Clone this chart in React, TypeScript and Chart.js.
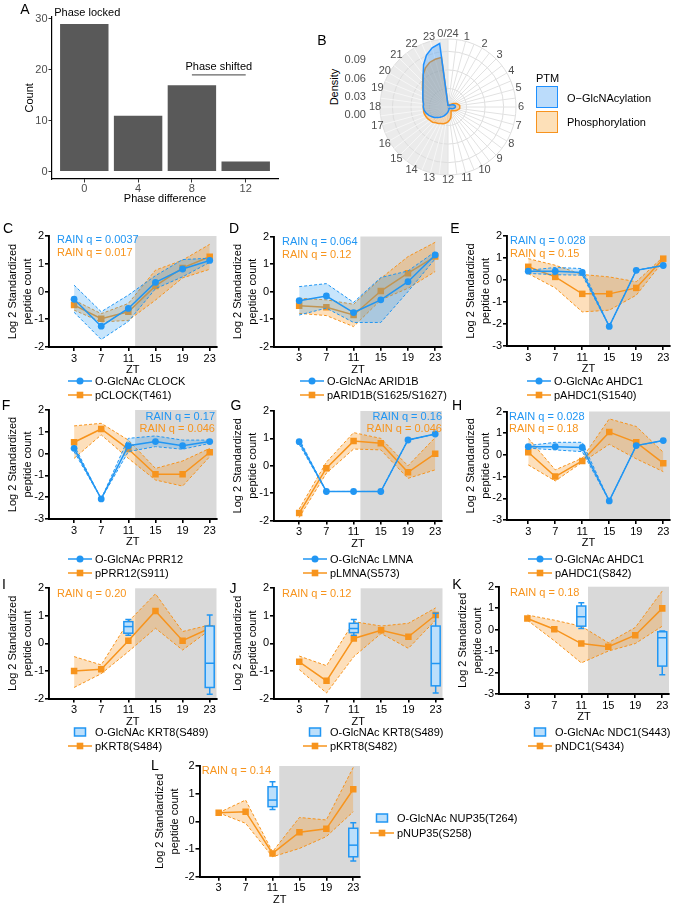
import React, { useEffect, useRef } from 'react';
import { Chart, registerables } from 'chart.js';

Chart.register(...registerables);

const FONT = '"Liberation Sans", Arial, Helvetica, sans-serif';
const BLUE = '#2196f3';
const ORANGE = '#f7941d';
const BLUE_FILL = 'rgba(33,150,243,0.25)';
const ORANGE_FILL = 'rgba(247,148,29,0.30)';
const BOX_FILL = 'rgba(33,150,243,0.30)';
const SHADE = '#d9d9d9';

// ---------- Panel A ----------
const phaseDiffLabels = ['0', '4', '8', '12'];
const phaseDiffCounts = [29, 11, 17, 2];
const countTicks = [0, 10, 20, 30];

// ---------- Panel B ----------
const ztHourLabels = ['0/24', '1', '2', '3', '4', '5', '6', '7', '8', '9', '10', '11', '12', '13', '14', '15', '16', '17', '18', '19', '20', '21', '22', '23'];
const densityTickLabels = ['0.09', '0.06', '0.03', '0.00'];
// density every half hour, ZT 0 .. 23.5
const densityGlcNAc = [
  0.003, 0.003, 0.003, 0.003, 0.003, 0.003, 0.004, 0.005, 0.007, 0.009, 0.011, 0.012,
  0.012, 0.011, 0.009, 0.007, 0.005, 0.004, 0.003, 0.003, 0.003, 0.004, 0.005, 0.006,
  0.008, 0.010, 0.012, 0.015, 0.018, 0.021, 0.024, 0.028, 0.031, 0.034, 0.037, 0.039,
  0.040, 0.040, 0.042, 0.044, 0.047, 0.051, 0.057, 0.066, 0.079, 0.091, 0.099, 0.1035,
];
const densityPhospho = [
  0.003, 0.003, 0.003, 0.003, 0.004, 0.005, 0.006, 0.008, 0.011, 0.015, 0.017, 0.019,
  0.019, 0.019, 0.017, 0.015, 0.012, 0.010, 0.008, 0.008, 0.010, 0.013, 0.018, 0.021,
  0.024, 0.026, 0.028, 0.029, 0.031, 0.032, 0.035, 0.036, 0.038, 0.039, 0.040, 0.040,
  0.040, 0.040, 0.042, 0.044, 0.047, 0.052, 0.058, 0.066, 0.073, 0.078, 0.080, 0.081,
];

// ---------- Line panels ----------
const ZT = [3, 7, 11, 15, 19, 23];

const C_glc = [-0.28, -1.25, -0.61, 0.33, 0.81, 1.12];
const C_glcHi = [0.23, -0.73, -0.13, 0.57, 1.15, 1.2];
const C_glcLo = [-0.75, -1.73, -1.08, 0.1, 0.53, 1.05];
const C_ph = [-0.49, -0.98, -0.73, 0.2, 0.85, 1.25];
const C_phHi = [-0.31, -0.8, -0.43, 0.77, 1.13, 1.7];
const C_phLo = [-0.67, -1.1, -1.04, -0.31, 0.49, 0.8];

const D_glc = [-0.33, -0.16, -0.76, -0.3, 0.36, 1.33];
const D_glcHi = [0.18, 0.29, -0.39, 0.51, 0.75, 1.45];
const D_glcLo = [-0.85, -0.6, -1.12, -1.12, 0.0, 1.19];
const D_ph = [-0.51, -0.57, -0.85, 0.02, 0.67, 1.27];
const D_phHi = [-0.24, -0.3, -0.46, 0.48, 1.27, 1.79];
const D_phLo = [-0.79, -0.87, -1.27, -0.3, 0.12, 0.73];

const E_glc = [0.4, 0.4, 0.34, -2.11, 0.44, 0.66];
const E_glcHi = [0.44, 0.57, 0.52, -2.11, 0.44, 0.66];
const E_glcLo = [0.3, 0.24, 0.22, -2.11, 0.44, 0.66];
const E_ph = [0.6, 0.14, -0.63, -0.63, -0.36, 0.97];
const E_phHi = [0.97, 0.67, 0.25, 0.14, -0.08, 1.05];
const E_phLo = [0.29, -0.36, -1.45, -1.37, -0.69, 0.85];

const F_glc = [0.24, -2.08, 0.36, 0.55, 0.36, 0.55];
const F_glcHi = [0.39, -2.08, 0.7, 0.81, 0.62, 0.62];
const F_glcLo = [0.09, -2.08, 0.09, 0.32, 0.2, 0.47];
const F_ph = [0.52, 1.13, 0.21, -0.95, -0.95, 0.06];
const F_phHi = [1.27, 1.39, 0.62, -0.68, -0.34, 0.24];
const F_phLo = [-0.22, 0.86, -0.22, -1.21, -1.49, -0.14];

const G_glc = [0.88, -0.94, -0.94, -0.94, 0.94, 1.16];
const G_glcHi = [0.98, -0.94, -0.94, -0.94, 0.94, 1.16];
const G_glcLo = [0.78, -0.94, -0.94, -0.94, 0.94, 1.16];
const G_ph = [-1.73, -0.09, 0.9, 0.82, -0.24, 0.44];
const G_phHi = [-1.58, 0.13, 1.21, 1.0, 0.0, 1.03];
const G_phLo = [-1.89, -0.27, 0.61, 0.58, -0.46, -0.15];

const H_glc = [0.38, 0.38, 0.34, -2.12, 0.43, 0.66];
const H_glcHi = [0.43, 0.58, 0.58, -2.12, 0.43, 0.66];
const H_glcLo = [0.31, 0.23, 0.15, -2.12, 0.43, 0.66];
const H_ph = [0.12, -1.0, -0.28, 1.05, 0.58, -0.38];
const H_phHi = [0.77, -0.69, -0.15, 1.66, 1.31, 0.12];
const H_phLo = [-0.46, -1.2, -0.34, 0.49, -0.18, -0.77];

const I_ph = [-1.0, -0.94, 0.1, 1.18, 0.1, 0.55];
const I_phHi = [-0.48, -0.78, 0.79, 1.8, 0.43, 0.67];
const I_phLo = [-1.6, -1.1, -0.3, 0.55, -0.24, 0.49];
const I_box11 = [0.3, 0.37, 0.61, 0.79, 0.87];
const I_box23 = [-1.85, -1.6, -0.72, 0.63, 1.03];

const J_ph = [-0.67, -1.36, 0.18, 0.48, 0.24, 1.03];
const J_phHi = [-0.46, -0.81, 0.79, 0.63, 0.73, 1.29];
const J_phLo = [-0.95, -1.8, -0.48, 0.36, -0.18, 0.85];
const J_box11 = [0.3, 0.39, 0.54, 0.73, 0.87];
const J_box23 = [-1.8, -1.54, -0.73, 0.63, 1.09];

const K_ph = [0.52, 0.02, -0.65, -0.8, -0.26, 0.99];
const K_phHi = [0.68, 0.44, 0.16, -0.61, 0.1, 1.8];
const K_phLo = [0.44, -0.52, -1.55, -1.0, -0.65, 0.16];
const K_box11 = [0.05, 0.16, 0.6, 1.1, 1.25];
const K_box23 = [-2.1, -1.7, -0.38, -0.1, -0.07];

const L_ph = [0.31, 0.35, -1.16, -0.39, -0.27, 1.16];
const L_phHi = [0.31, 0.77, -1.1, 0.14, 0.05, 1.95];
const L_phLo = [0.31, -0.07, -1.28, -0.98, -0.55, 0.35];
const L_box11 = [0.43, 0.53, 0.77, 1.25, 1.43];
const L_box23 = [-1.43, -1.28, -0.86, -0.25, -0.05];

type Series = { mean: number[]; hi: number[]; lo: number[] };
type Box = { x: number; stats: number[] };
type Rain = { text: string; color: string; x: number; y: number; align: 'left' | 'right' };
type Panel = {
  id: string; canvasLeft: number; left: number; right: number; top: number; bottom: number;
  xMin: number; yMin: number; yMax: number;
  glc?: Series; ph: Series; boxes?: Box[];
  legendX: number; legendY: number; legendGap: number; legendLabels: string[]; boxLegend?: boolean;
  rain: Rain[];
};

const PANELS: Panel[] = [
  {
    id: 'C', canvasLeft: 0, left: 49, right: 216.5, top: 236, bottom: 347, xMin: -0.7, yMin: -2, yMax: 2,
    glc: { mean: C_glc, hi: C_glcHi, lo: C_glcLo }, ph: { mean: C_ph, hi: C_phHi, lo: C_phLo },
    legendX: 68, legendY: 380.5, legendGap: 14.7, legendLabels: ['O-GlcNAc CLOCK', 'pCLOCK(T461)'],
    rain: [
      { text: 'RAIN q = 0.0037', color: BLUE, x: 57, y: 239, align: 'left' },
      { text: 'RAIN q = 0.017', color: ORANGE, x: 57, y: 252, align: 'left' },
    ],
  },
  {
    id: 'D', canvasLeft: 225, left: 274, right: 442, top: 236.5, bottom: 346.7, xMin: -0.7, yMin: -2, yMax: 2,
    glc: { mean: D_glc, hi: D_glcHi, lo: D_glcLo }, ph: { mean: D_ph, hi: D_phHi, lo: D_phLo },
    legendX: 300, legendY: 380.5, legendGap: 14.7, legendLabels: ['O-GlcNAc ARID1B', 'pARID1B(S1625/S1627)'],
    rain: [
      { text: 'RAIN q = 0.064', color: BLUE, x: 282, y: 241, align: 'left' },
      { text: 'RAIN q = 0.12', color: ORANGE, x: 282, y: 254, align: 'left' },
    ],
  },
  {
    id: 'E', canvasLeft: 458, left: 507, right: 670, top: 236, bottom: 346, xMin: -0.15, yMin: -3, yMax: 2,
    glc: { mean: E_glc, hi: E_glcHi, lo: E_glcLo }, ph: { mean: E_ph, hi: E_phHi, lo: E_phLo },
    legendX: 527, legendY: 380.5, legendGap: 14.7, legendLabels: ['O-GlcNAc AHDC1', 'pAHDC1(S1540)'],
    rain: [
      { text: 'RAIN q = 0.028', color: BLUE, x: 510, y: 240, align: 'left' },
      { text: 'RAIN q = 0.15', color: ORANGE, x: 510, y: 253, align: 'left' },
    ],
  },
  {
    id: 'F', canvasLeft: 0, left: 49, right: 216.5, top: 410, bottom: 519, xMin: -0.7, yMin: -3, yMax: 2,
    glc: { mean: F_glc, hi: F_glcHi, lo: F_glcLo }, ph: { mean: F_ph, hi: F_phHi, lo: F_phLo },
    legendX: 68, legendY: 558.7, legendGap: 14, legendLabels: ['O-GlcNAc PRR12', 'pPRR12(S911)'],
    rain: [
      { text: 'RAIN q = 0.17', color: BLUE, x: 215, y: 416, align: 'right' },
      { text: 'RAIN q = 0.046', color: ORANGE, x: 215, y: 428, align: 'right' },
    ],
  },
  {
    id: 'G', canvasLeft: 225, left: 274, right: 442, top: 411, bottom: 520.5, xMin: -0.7, yMin: -2, yMax: 2,
    glc: { mean: G_glc, hi: G_glcHi, lo: G_glcLo }, ph: { mean: G_ph, hi: G_phHi, lo: G_phLo },
    legendX: 303, legendY: 558.7, legendGap: 14, legendLabels: ['O-GlcNAc LMNA', 'pLMNA(S573)'],
    rain: [
      { text: 'RAIN q = 0.16', color: BLUE, x: 442, y: 416, align: 'right' },
      { text: 'RAIN q = 0.046', color: ORANGE, x: 442, y: 427.5, align: 'right' },
    ],
  },
  {
    id: 'H', canvasLeft: 458, left: 507, right: 670, top: 411.5, bottom: 520, xMin: -0.15, yMin: -3, yMax: 2,
    glc: { mean: H_glc, hi: H_glcHi, lo: H_glcLo }, ph: { mean: H_ph, hi: H_phHi, lo: H_phLo },
    legendX: 528, legendY: 558.7, legendGap: 14, legendLabels: ['O-GlcNAc AHDC1', 'pAHDC1(S842)'],
    rain: [
      { text: 'RAIN q = 0.028', color: BLUE, x: 509, y: 416, align: 'left' },
      { text: 'RAIN q = 0.18', color: ORANGE, x: 509, y: 428, align: 'left' },
    ],
  },
  {
    id: 'I', canvasLeft: 0, left: 49, right: 216.5, top: 588.3, bottom: 698.5, xMin: -0.7, yMin: -2, yMax: 2,
    ph: { mean: I_ph, hi: I_phHi, lo: I_phLo }, boxes: [{ x: 11, stats: I_box11 }, { x: 23, stats: I_box23 }],
    legendX: 68, legendY: 732.3, legendGap: 13.8, legendLabels: ['O-GlcNAc KRT8(S489)', 'pKRT8(S484)'], boxLegend: true,
    rain: [{ text: 'RAIN q = 0.20', color: ORANGE, x: 57, y: 593.3, align: 'left' }],
  },
  {
    id: 'J', canvasLeft: 225, left: 274, right: 442.5, top: 588.3, bottom: 698.5, xMin: -0.7, yMin: -2, yMax: 2,
    ph: { mean: J_ph, hi: J_phHi, lo: J_phLo }, boxes: [{ x: 11, stats: J_box11 }, { x: 23, stats: J_box23 }],
    legendX: 303, legendY: 732.3, legendGap: 13.8, legendLabels: ['O-GlcNAc KRT8(S489)', 'pKRT8(S482)'], boxLegend: true,
    rain: [{ text: 'RAIN q = 0.12', color: ORANGE, x: 282, y: 593.3, align: 'left' }],
  },
  {
    id: 'K', canvasLeft: 450, left: 499, right: 669, top: 586.7, bottom: 694, xMin: -1.2, yMin: -3, yMax: 2,
    ph: { mean: K_ph, hi: K_phHi, lo: K_phLo }, boxes: [{ x: 11, stats: K_box11 }, { x: 23, stats: K_box23 }],
    legendX: 528, legendY: 732.3, legendGap: 13.8, legendLabels: ['O-GlcNAc NDC1(S443)', 'pNDC1(S434)'], boxLegend: true,
    rain: [{ text: 'RAIN q = 0.18', color: ORANGE, x: 510, y: 591.7, align: 'left' }],
  },
  {
    id: 'L', canvasLeft: 147, left: 199.5, right: 360, top: 766, bottom: 876.7, xMin: 0.15, yMin: -2, yMax: 2,
    ph: { mean: L_ph, hi: L_phHi, lo: L_phLo }, boxes: [{ x: 11, stats: L_box11 }, { x: 23, stats: L_box23 }],
    legendX: 370, legendY: 818.3, legendGap: 15, legendLabels: ['O-GlcNAc NUP35(T264)', 'pNUP35(S258)'], boxLegend: true,
    rain: [{ text: 'RAIN q = 0.14', color: ORANGE, x: 201.7, y: 770, align: 'left' }],
  },
];

const PANEL_LETTERS: [string, number, number][] = [
  ['A', 25, 9], ['B', 322, 40], ['C', 8, 228], ['D', 234, 228], ['E', 455, 228],
  ['F', 6, 405], ['G', 236, 405], ['H', 457, 405], ['I', 4, 584], ['J', 233, 588],
  ['K', 457, 584], ['L', 155, 765],
];

// ---------- helpers ----------
function Txt(props: {
  x: number; y: number; children: React.ReactNode; align?: 'left' | 'right' | 'center';
  color?: string; size?: number; rotate?: boolean;
}) {
  const { x, y, children, align = 'left', color = '#000', size = 11, rotate = false } = props;
  const tx = rotate || align === 'center' ? '-50%' : align === 'right' ? '-100%' : '0';
  return (
    <div
      style={{
        position: 'absolute', left: x, top: y, whiteSpace: 'nowrap', color, fontSize: size,
        fontFamily: FONT, lineHeight: `${Math.round(size * 1.25)}px`,
        transform: `translate(${tx}, -50%)${rotate ? ' rotate(-90deg)' : ''}`,
        transformOrigin: 'center center',
      }}
    >
      {children}
    </div>
  );
}

function Legend({ p }: { p: Panel }) {
  return (
    <>
      {p.legendLabels.map((label, i) => {
        const isBlue = i === 0;
        return (
          <div
            key={i}
            style={{
              position: 'absolute', left: p.legendX, top: p.legendY + i * p.legendGap - 7, height: 14,
              display: 'flex', alignItems: 'center', whiteSpace: 'nowrap', fontSize: 11, fontFamily: FONT, color: '#000',
            }}
          >
            <svg width={24} height={14} style={{ marginRight: 3, flex: 'none' }}>
              {isBlue && p.boxLegend ? (
                <rect x={6.5} y={3} width={11} height={8} fill={BOX_FILL} stroke={BLUE} strokeWidth={1.5} />
              ) : (
                <>
                  <line x1={0} y1={7} x2={24} y2={7} stroke={isBlue ? BLUE : ORANGE} strokeWidth={1.5} />
                  {isBlue ? (
                    <circle cx={12} cy={7} r={3.5} fill={BLUE} />
                  ) : (
                    <rect x={8.7} y={3.7} width={6.6} height={6.6} fill={ORANGE} />
                  )}
                </>
              )}
            </svg>
            <span>{label}</span>
          </div>
        );
      })}
    </>
  );
}

// ---------- Panel A ----------
function PanelA() {
  const ref = useRef<HTMLCanvasElement>(null);
  useEffect(() => {
    const annot = {
      id: 'annotA',
      afterDraw(chart: any) {
        const { ctx, scales } = chart;
        const x = scales.x, y = scales.y;
        ctx.save();
        ctx.fillStyle = '#000';
        ctx.font = `11px ${FONT}`;
        ctx.textAlign = 'center';
        ctx.textBaseline = 'middle';
        ctx.fillText('Phase locked', x.getPixelForValue(0) + 3, y.getPixelForValue(31.2));
        ctx.fillText('Phase shifted', x.getPixelForValue(2.5), y.getPixelForValue(20.6));
        ctx.strokeStyle = '#666';
        ctx.lineWidth = 1.3;
        ctx.beginPath();
        ctx.moveTo(x.getPixelForValue(2), y.getPixelForValue(19));
        ctx.lineTo(x.getPixelForValue(3), y.getPixelForValue(19));
        ctx.stroke();
        ctx.restore();
      },
    };
    const tickFont = { family: FONT, size: 11 };
    const chart = new Chart(ref.current as HTMLCanvasElement, {
      type: 'bar',
      data: {
        datasets: [{
          data: phaseDiffCounts.map((v, i) => ({ x: i, y: v })) as any,
          backgroundColor: '#595959', barPercentage: 0.9, categoryPercentage: 1, borderWidth: 0,
        }],
      },
      options: {
        animation: false, responsive: false, events: [],
        layout: { padding: { top: 16.7, right: 12, left: 0, bottom: 0 } },
        plugins: { legend: { display: false }, tooltip: { enabled: false } },
        scales: {
          x: {
            type: 'linear', min: -0.6, max: 3.6, offset: false,
            afterBuildTicks: (ax: any) => { ax.ticks = phaseDiffLabels.map((_, i) => ({ value: i })); },
            ticks: { callback: (v: any) => phaseDiffLabels[v], font: tickFont, color: '#4d4d4d', padding: 0, maxRotation: 0, autoSkip: false },
            grid: { display: true, offset: false, drawOnChartArea: false, drawTicks: true, tickLength: 3.5, color: '#333', lineWidth: 1 },
            border: { display: true, color: '#000', width: 1.2 },
            title: { display: true, text: 'Phase difference', font: tickFont, color: '#000', padding: { top: 0, bottom: 0 } },
            afterFit: (s: any) => { s.height = 27; s.paddingLeft = 0; s.paddingRight = 0; },
          } as any,
          y: {
            min: -1.45, max: 30.45,
            afterBuildTicks: (ax: any) => { ax.ticks = countTicks.map((v) => ({ value: v })); },
            ticks: { font: tickFont, color: '#4d4d4d', padding: 1 },
            grid: { display: true, drawOnChartArea: false, drawTicks: true, tickLength: 3.5, color: '#333', lineWidth: 1 },
            border: { display: true, color: '#000', width: 1.2 },
            title: { display: true, text: 'Count', font: tickFont, color: '#000', padding: { top: 23.4, bottom: 0 } },
            afterFit: (s: any) => { s.width = 52; s.paddingTop = 0; s.paddingBottom = 0; },
          } as any,
        },
      },
      plugins: [annot],
    });
    return () => chart.destroy();
  }, []);
  return <canvas ref={ref} width={290} height={206} style={{ position: 'absolute', left: 0, top: 0, width: 290, height: 206 }} />;
}

// ---------- Panel B ----------
function PanelB() {
  const ref = useRef<HTMLCanvasElement>(null);
  useEffect(() => {
    const labels = ztHourLabels.flatMap((l) => [l, '']);
    const shadeHalf = {
      id: 'shadeHalf',
      beforeDraw(chart: any) {
        const r = chart.scales.r;
        const ctx = chart.ctx;
        ctx.save();
        ctx.fillStyle = '#ebebeb';
        ctx.beginPath();
        ctx.moveTo(r.xCenter, r.yCenter);
        ctx.arc(r.xCenter, r.yCenter, r.drawingArea, Math.PI / 2, Math.PI * 1.5, false);
        ctx.closePath();
        ctx.fill();
        ctx.restore();
      },
    };
    const hourLabels = {
      id: 'hourLabels',
      afterDraw(chart: any) {
        const r = chart.scales.r;
        const ctx = chart.ctx;
        ctx.save();
        ctx.fillStyle = '#4d4d4d';
        ctx.font = `11px ${FONT}`;
        ctx.textAlign = 'center';
        ctx.textBaseline = 'middle';
        labels.forEach((l, i) => {
          if (!l) return;
          const p = r.getPointPosition(i, r.drawingArea + 5);
          ctx.fillText(l, p.x, p.y);
        });
        ctx.restore();
      },
    };
    const chart = new Chart(ref.current as HTMLCanvasElement, {
      type: 'radar',
      data: {
        labels,
        datasets: [
          {
            label: 'O−GlcNAcylation', data: densityGlcNAc, borderColor: '#1e90ff', backgroundColor: 'rgba(30,144,255,0.30)',
            borderWidth: 1.5, pointRadius: 0, fill: true,
          },
          {
            label: 'Phosphorylation', data: densityPhospho, borderColor: '#f7931e', backgroundColor: 'rgba(247,147,30,0.30)',
            borderWidth: 1.5, pointRadius: 0, fill: true,
          },
        ],
      },
      options: {
        animation: false, responsive: false, events: [],
        layout: { padding: 30 },
        plugins: { legend: { display: false }, tooltip: { enabled: false } },
        scales: {
          r: {
            min: 0, max: 0.11,
            ticks: { display: false, stepSize: 0.03 },
            pointLabels: { display: false },
            grid: { circular: true, color: '#dedede', lineWidth: 1 },
            angleLines: {
              display: true, lineWidth: 1,
              color: (ctx: any) => (ctx.index > 24 ? '#f7f7f7' : '#e2e2e2'),
            },
          } as any,
        },
      },
      plugins: [shadeHalf, hourLabels],
    });
    return () => chart.destroy();
  }, []);
  return <canvas ref={ref} width={196} height={196} style={{ position: 'absolute', left: 350, top: 9, width: 196, height: 196 }} />;
}

// ---------- Line panels ----------
function LinePanel({ p }: { p: Panel }) {
  const ref = useRef<HTMLCanvasElement>(null);
  const ct = Math.round(p.top) - 10;
  const w = Math.round(p.right + 8 - p.canvasLeft);
  const h = Math.round(p.bottom + 30 - ct);
  useEffect(() => {
    const yW = p.left - p.canvasLeft;
    const xH = ct + h - p.bottom;
    const padTop = p.top - ct;
    const padRight = p.canvasLeft + w - p.right;
    const pts = (arr: number[]) => arr.map((y, i) => ({ x: ZT[i], y }));
    const datasets: any[] = [];
    const addSeries = (s: Series, color: string, fillC: string, style: string, rad: number) => {
      datasets.push({
        data: pts(s.mean), borderColor: color, backgroundColor: color, borderWidth: 1.5,
        pointRadius: rad, pointStyle: style, pointBorderWidth: 0, fill: false,
      });
      datasets.push({
        data: pts(s.hi), borderColor: color, backgroundColor: fillC, borderWidth: 1, borderDash: [3, 2],
        pointRadius: 0, fill: '+1',
      });
      datasets.push({
        data: pts(s.lo), borderColor: color, backgroundColor: fillC, borderWidth: 1, borderDash: [3, 2],
        pointRadius: 0, fill: false,
      });
    };
    if (p.glc) addSeries(p.glc, BLUE, BLUE_FILL, 'circle', 3.4);
    addSeries(p.ph, ORANGE, ORANGE_FILL, 'rect', 4.6);

    const shade = {
      id: 'shadeNight',
      beforeDraw(chart: any) {
        const { ctx, chartArea: a, scales } = chart;
        const x0 = scales.x.getPixelForValue(12);
        const x1 = scales.x.getPixelForValue(24);
        ctx.save();
        ctx.fillStyle = SHADE;
        ctx.fillRect(x0, a.top, x1 - x0, a.bottom - a.top);
        ctx.restore();
      },
    };
    const boxes = {
      id: 'boxPlots',
      afterDatasetsDraw(chart: any) {
        if (!p.boxes) return;
        const { ctx, scales } = chart;
        const x = scales.x, y = scales.y;
        p.boxes.forEach((b) => {
          const [mn, q1, md, q3, mx] = b.stats;
          const px = x.getPixelForValue(b.x);
          const hw = 4.5, cw = 3;
          const yMx = y.getPixelForValue(mx), yQ3 = y.getPixelForValue(q3), yMd = y.getPixelForValue(md);
          const yQ1 = y.getPixelForValue(q1), yMn = y.getPixelForValue(mn);
          ctx.save();
          ctx.strokeStyle = BLUE;
          ctx.lineWidth = 1.5;
          ctx.beginPath();
          ctx.moveTo(px, yMx); ctx.lineTo(px, yQ3);
          ctx.moveTo(px, yQ1); ctx.lineTo(px, yMn);
          ctx.moveTo(px - cw, yMx); ctx.lineTo(px + cw, yMx);
          ctx.moveTo(px - cw, yMn); ctx.lineTo(px + cw, yMn);
          ctx.stroke();
          ctx.fillStyle = '#ffffff';
          ctx.fillRect(px - hw, yQ3, 2 * hw, yQ1 - yQ3);
          ctx.fillStyle = BOX_FILL;
          ctx.fillRect(px - hw, yQ3, 2 * hw, yQ1 - yQ3);
          ctx.strokeRect(px - hw, yQ3, 2 * hw, yQ1 - yQ3);
          ctx.beginPath();
          ctx.moveTo(px - hw, yMd); ctx.lineTo(px + hw, yMd);
          ctx.stroke();
          ctx.restore();
        });
      },
    };

    const tickFont = { family: FONT, size: 11 };
    const gridOpts = { display: true, drawOnChartArea: false, drawTicks: true, tickLength: 4, color: '#000', lineWidth: 1.6 };
    const borderOpts = { display: true, color: '#000', width: 1.9 };
    const chart = new Chart(ref.current as HTMLCanvasElement, {
      type: 'line',
      data: { datasets },
      options: {
        animation: false, responsive: false, events: [],
        layout: { padding: { top: padTop, right: padRight, left: 0, bottom: 0 } },
        plugins: { legend: { display: false }, tooltip: { enabled: false } },
        scales: {
          x: {
            type: 'linear', min: p.xMin, max: 24,
            afterBuildTicks: (ax: any) => { ax.ticks = ZT.map((v) => ({ value: v })); },
            ticks: { font: tickFont, color: '#000', padding: 1, maxRotation: 0, autoSkip: false },
            grid: gridOpts, border: borderOpts,
            title: { display: true, text: 'ZT', font: tickFont, color: '#000', padding: { top: 0, bottom: 0 } },
            afterFit: (s: any) => { s.height = xH; s.paddingLeft = 0; s.paddingRight = 0; },
          } as any,
          y: {
            min: p.yMin, max: p.yMax,
            ticks: { stepSize: 1, font: tickFont, color: '#000', padding: 1 },
            grid: gridOpts, border: borderOpts,
            title: {
              display: true, text: ['Log 2 Standardized', 'peptide count'],
              font: { family: FONT, size: 11, lineHeight: 1.36 }, color: '#000', padding: { top: 5.5, bottom: 0 },
            },
            afterFit: (s: any) => { s.width = yW; s.paddingTop = 0; s.paddingBottom = 0; },
          } as any,
        },
      },
      plugins: [shade, boxes],
    });
    return () => chart.destroy();
  }, []);
  return (
    <>
      <canvas ref={ref} width={w} height={h} style={{ position: 'absolute', left: p.canvasLeft, top: ct, width: w, height: h }} />
      {p.rain.map((r, i) => (
        <Txt key={i} x={r.x} y={r.y} align={r.align} color={r.color}>{r.text}</Txt>
      ))}
      <Legend p={p} />
    </>
  );
}

export default function App() {
  const densityY = [59, 77.5, 96, 114];
  return (
    <div
      style={{
        position: 'absolute', left: 0, top: 0, width: 679, height: 906, background: '#fff',
        overflow: 'hidden', fontFamily: FONT,
      }}
    >
      <PanelA />
      <PanelB />
      {/* Panel B radial axis and legend */}
      <Txt x={334} y={87} rotate>Density</Txt>
      {densityTickLabels.map((t, i) => (
        <Txt key={t} x={366} y={densityY[i]} align="right" color="#4d4d4d">{t}</Txt>
      ))}
      <Txt x={536} y={78}>PTM</Txt>
      <div style={{ position: 'absolute', left: 536, top: 86, width: 22, height: 22, boxSizing: 'border-box', background: '#bbdcfb', border: '1.5px solid #1e90ff' }} />
      <div style={{ position: 'absolute', left: 536, top: 110.5, width: 22, height: 22, boxSizing: 'border-box', background: '#fde0b8', border: '1.5px solid #f7931e' }} />
      <Txt x={567} y={98}>O−GlcNAcylation</Txt>
      <Txt x={567} y={122}>Phosphorylation</Txt>

      {PANELS.map((p) => <LinePanel key={p.id} p={p} />)}

      {PANEL_LETTERS.map(([l, x, y]) => (
        <Txt key={l} x={x} y={y} align="center" size={14}>{l}</Txt>
      ))}
    </div>
  );
}
